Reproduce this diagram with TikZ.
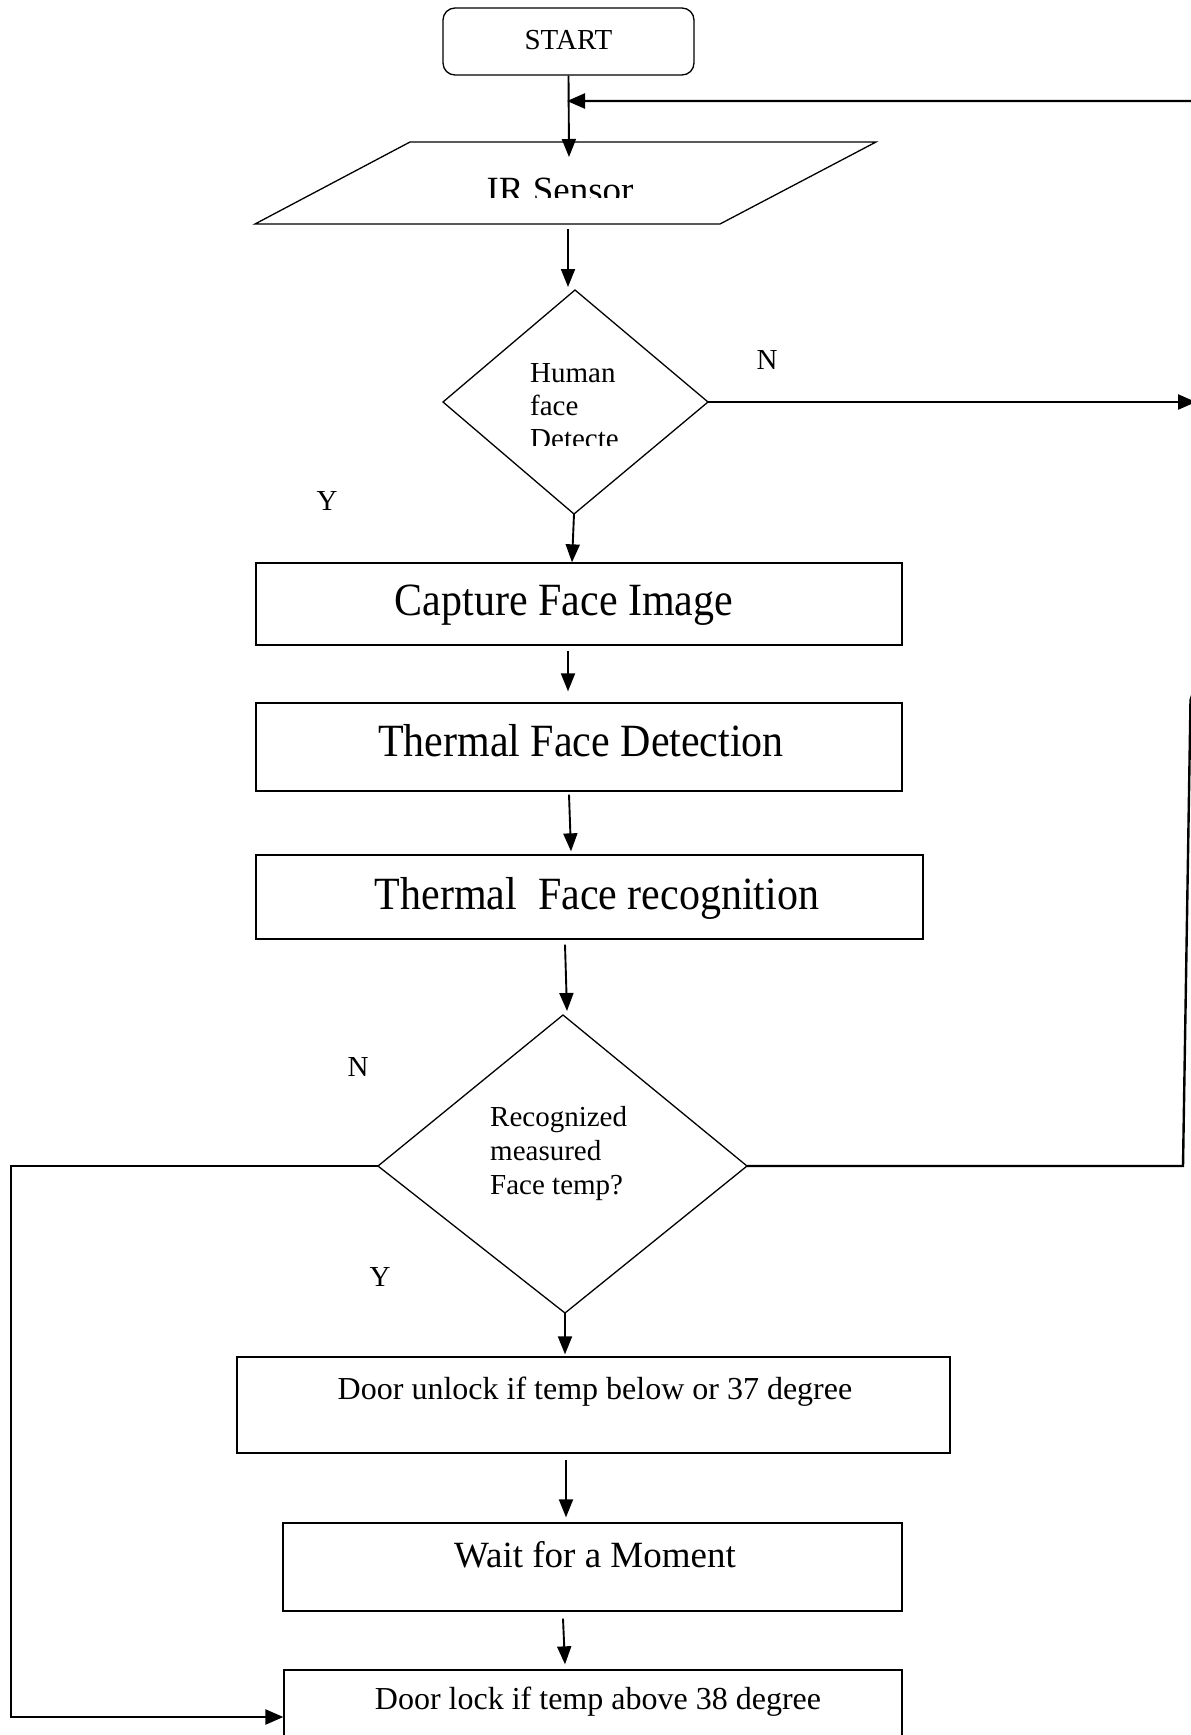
\documentclass[tikz,border=0pt]{standalone}
\usepackage{fontspec}
\setmainfont{Liberation Serif}
\usetikzlibrary{calc,arrows.meta}
\begin{document}
\begin{tikzpicture}[x=1pt,y=-1pt,
  shp/.style={draw, line width=1.3pt},
  box/.style={shp, rectangle, inner sep=0pt},
  lbl/.style={anchor=base, inner sep=0pt, font=\fontsize{#1}{#1}\selectfont},
  lbll/.style={anchor=base west, inner sep=0pt, font=\fontsize{#1}{#1}\selectfont},
  arr/.style={line width=1.9pt, -{Triangle[length=18pt,width=14pt]}},
  lparr/.style={line width=2.4pt, -{Triangle[length=18pt,width=15pt]}}]
\useasboundingbox (0,0) rectangle (1191,1735);

% START
\node[shp, rounded corners=12pt, minimum width=251pt, minimum height=67pt, inner sep=0pt,
      font=\fontsize{29}{29}\selectfont, text depth=3pt] (start) at (568.5,41.5) {START};

% IR Sensor parallelogram
\coordinate (p1) at (410,142);
\coordinate (p2) at (876,142);
\coordinate (p3) at (720,224);
\coordinate (p4) at (255,224);
\draw[shp] (p1) -- (p2) -- (p3) -- (p4) -- cycle;
\begin{scope}
  \clip (300,150) rectangle (800,197.5);
  \node[lbl=37] (ir) at (560,202) {IR Sensor};
\end{scope}
\coordinate (irin) at (569,157);
\coordinate (irb) at (568,229);
\coordinate (fb) at (567,101);

% Decision 1
\coordinate (d1t) at (575,290);
\coordinate (d1r) at (708,402);
\coordinate (d1b) at (574,514);
\coordinate (d1l) at (443,402);
\draw[shp] (d1t) -- (d1r) -- (d1b) -- (d1l) -- cycle;
\node[lbll=29] (h1) at (530,382) {Human};
\node[lbll=29] (h2) at (530,415) {face};
\begin{scope}
  \clip (500,420) rectangle (650,445);
  \node[lbll=29] (h3) at (530,448.5) {Detecte};
\end{scope}
\node[lbl=29] (n1) at (767,369) {N};
\node[lbl=29] (y1) at (327,510) {Y};

% Process boxes
\node[box, minimum width=646pt, minimum height=82pt] (cap) at (579,604) {};
\node[lbl=42] (tcap) at (564,615) {\scalebox{1}[1.1]{Capture Face Image}};
\node[box, minimum width=646pt, minimum height=88pt] (det) at (579,747) {};
\node[lbl=42] (tdet) at (581,756) {\scalebox{1}[1.1]{Thermal Face Detection}};
\node[box, minimum width=667pt, minimum height=84pt] (rec) at (589.5,897) {};
\node[lbl=42] (trec) at (597,909) {\scalebox{1}[1.1]{Thermal\ \ Face recognition}};

% Decision 2
\coordinate (d2t) at (563,1015);
\coordinate (d2r) at (747,1166);
\coordinate (d2b) at (565,1313);
\coordinate (d2l) at (378,1166);
\draw[shp] (d2t) -- (d2r) -- (d2b) -- (d2l) -- cycle;
\node[lbll=29] (r1) at (490,1126) {Recognized};
\node[lbll=29] (r2) at (490,1160) {measured};
\node[lbll=29] (r3) at (490,1194) {Face temp?};
\node[lbl=29] (n2) at (358,1076) {N};
\node[lbl=29] (y2) at (380,1286) {Y};

% Lower boxes
\node[box, minimum width=713pt, minimum height=96pt] (unl) at (593.5,1405) {};
\node[lbl=32] (tunl) at (595,1399) {Door unlock if temp below or 37 degree};
\node[box, minimum width=619pt, minimum height=88pt] (wait) at (592.5,1567) {};
\node[lbl=37] (twait) at (595,1567) {Wait for a Moment};
\node[box, minimum width=618pt, minimum height=94pt] (lock) at (593,1717) {};
\node[lbl=32] (tlock) at (598,1709) {Door lock if temp above 38 degree};

% Connectors
\draw[arr] (start.south) -- (irin);
\draw[arr] (irb) -- ($(d1t)+(-7,-3)$);
\draw[lparr] (d1r) -- (1196,402);
\draw[arr] (d1b) -- ($(d1b |- cap.north)+(-2,0)$);
\draw[arr] ($(cap.south)+(-11,5)$) -- ($(det.north)+(-11,-11)$);
\draw[arr] ($(det.south)+(-10,3)$) -- ($(rec.north)+(-18.5,-3)$);
\draw[arr] ($(rec.south)+(-24.5,5)$) -- ($(d2t)+(4,-4)$);
\draw[arr] (d2b) -- ($(d2b |- unl.north)+(0,-2)$);
\draw[arr] ($(unl.south)+(-27.5,6)$) -- ($(wait.north)+(-26.5,-5)$);
\draw[arr] ($(wait.south)+(-29.5,7)$) -- ($(lock.north)+(-28,-5)$);

% Loops
\draw[lparr] (d2r) -- (1183,1166) -- (1190.5,700) -- (1194,690) -- (1194,101) -- (fb);
\draw[lparr] (d2l) -- (11,1166) -- (11,1717) -- (lock.west);
\end{tikzpicture}
\end{document}
